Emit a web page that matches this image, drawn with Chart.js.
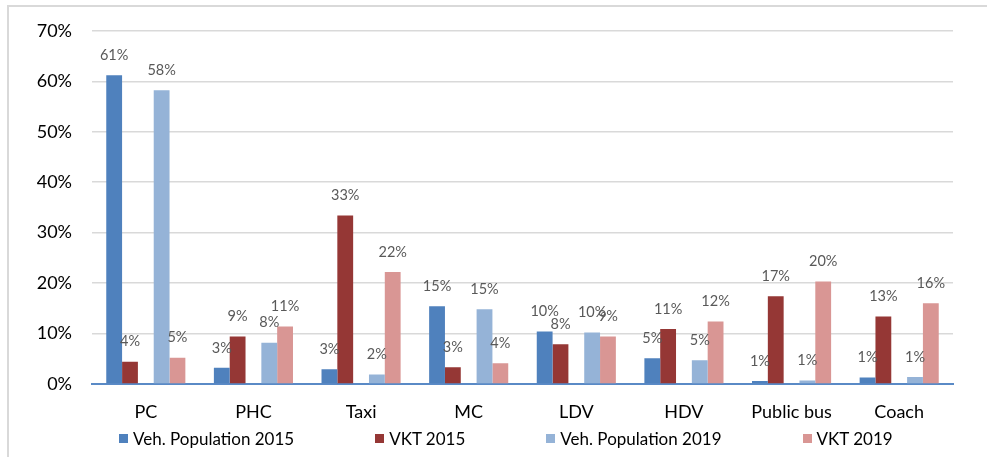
<!DOCTYPE html>
<html>
<head>
<meta charset="utf-8">
<script src="https://cdn.jsdelivr.net/npm/chart.js@4"></script>
<style>
  html, body { margin: 0; padding: 0; background: #fff; }
  #wrap { position: relative; width: 987px; height: 457px; overflow: hidden; }
  #frame {
    position: absolute; left: 7px; top: 5px; right: 0; bottom: 0;
    border-left: 2px solid #d9d9d9; border-top: 2px solid #d9d9d9;
  }
  #chart { position: absolute; left: 0; top: 0; }
  #legend {
    position: absolute; left: 119px; top: 428px;
    display: flex; gap: 81px; align-items: center;
    font-family: Lato, sans-serif; font-size: 17px; color: #000;
    white-space: nowrap;
  }
  .item { display: flex; align-items: center; gap: 5px; }
  .swatch { width: 9px; height: 9px; display: inline-block; }
</style>
</head>
<body>
<div id="wrap">
  <div id="frame"></div>
  <canvas id="chart" width="987" height="457"></canvas>
  <div id="legend"></div>
</div>
<script>
/* ---- Data ---- */
const categories = ['PC', 'PHC', 'Taxi', 'MC', 'LDV', 'HDV', 'Public bus', 'Coach'];
const pop2015 = [61.2, 3.2, 2.9, 15.4, 10.4, 5.1, 0.6, 1.3];
const vkt2015 = [4.4, 9.4, 33.4, 3.3, 7.9, 10.9, 17.4, 13.4];
const pop2019 = [58.2, 8.2, 1.9, 14.8, 10.2, 4.7, 0.7, 1.4];
const vkt2019 = [5.2, 11.4, 22.2, 4.1, 9.4, 12.4, 20.3, 16.0];
const yTicks = [0, 10, 20, 30, 40, 50, 60, 70];

const series = [
  { label: 'Veh. Population 2015', data: pop2015, color: '#4f81bd' },
  { label: 'VKT 2015',             data: vkt2015, color: '#953735' },
  { label: 'Veh. Population 2019', data: pop2019, color: '#95b3d7' },
  { label: 'VKT 2019',             data: vkt2019, color: '#d99694' },
];

/* ---- Datasets (empty slot between the 2015 and 2019 pairs) ---- */
const spacer = { label: '', data: categories.map(() => null), spacer: true };
const mk = (s) => ({ label: s.label, data: s.data, backgroundColor: s.color, borderWidth: 0 });
const datasets = [mk(series[0]), mk(series[1]), spacer, mk(series[2]), mk(series[3])];

/* ---- Value labels above bars ---- */
const valueLabels = {
  id: 'valueLabels',
  afterDatasetsDraw(chart) {
    const ctx = chart.ctx;
    ctx.save();
    ctx.font = '14.5px Lato, sans-serif';
    ctx.fillStyle = '#595959';
    ctx.textAlign = 'center';
    ctx.textBaseline = 'middle';
    chart.data.datasets.forEach((ds, i) => {
      if (ds.spacer) return;
      chart.getDatasetMeta(i).data.forEach((bar, j) => {
        ctx.fillText(Math.round(ds.data[j]) + '%', bar.x, bar.y - 20);
      });
    });
    ctx.restore();
  },
};

/* ---- Chart ---- */
new Chart(document.getElementById('chart'), {
  type: 'bar',
  data: { labels: categories, datasets },
  plugins: [valueLabels],
  options: {
    responsive: false,
    animation: false,
    layout: { padding: { left: 0, right: 34, top: 29, bottom: 33 } },
    datasets: { bar: { categoryPercentage: 0.735, barPercentage: 1 } },
    plugins: { legend: { display: false }, tooltip: { enabled: false } },
    scales: {
      x: {
        grid: { display: false },
        border: { color: '#5a8ac6', width: 2 },
        ticks: { color: '#000', font: { family: 'Lato', size: 18 }, padding: 9 },
        afterFit: (s) => { s.height = 40; },
      },
      y: {
        min: 0,
        max: 70,
        afterBuildTicks: (s) => { s.ticks = yTicks.map((v) => ({ value: v })); },
        grid: { color: '#d9d9d9', lineWidth: 1.5, drawTicks: false },
        border: { display: false },
        ticks: {
          color: '#000',
          font: { family: 'Lato', size: 18 },
          padding: 20,
          callback: (v) => v + '%',
        },
        afterFit: (s) => { s.width = 92; },
      },
    },
  },
});

/* ---- Legend ---- */
document.getElementById('legend').innerHTML = series
  .map((s) => `<span class="item"><span class="swatch" style="background:${s.color}"></span>${s.label}</span>`)
  .join('');
</script>
</body>
</html>
